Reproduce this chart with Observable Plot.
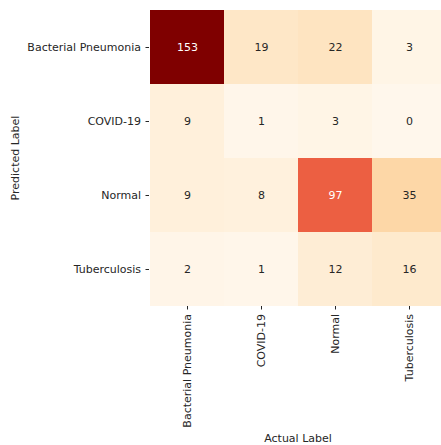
<!DOCTYPE html>
<html>
<head>
<meta charset="utf-8">
<script src="https://cdn.jsdelivr.net/npm/d3@7"></script>
<script src="https://cdn.jsdelivr.net/npm/@observablehq/plot@0.6"></script>
<style>
  html, body { margin: 0; padding: 0; background: #fff; overflow: hidden; }
  svg { font-family: "DejaVu Sans", sans-serif; }
</style>
</head>
<body>
<div id="chart"></div>
<script>
// Class names (rows = predicted, columns = actual)
const classes = ["Bacterial Pneumonia", "COVID-19", "Normal", "Tuberculosis"];

// Confusion-matrix counts, one array per predicted class
const predBacterial = [153, 19, 22, 3];
const predCovid = [9, 1, 3, 0];
const predNormal = [9, 8, 97, 35];
const predTuberculosis = [2, 1, 12, 16];

const matrix = [predBacterial, predCovid, predNormal, predTuberculosis];
const cells = matrix.flatMap((row, i) =>
  row.map((v, j) => ({predicted: classes[i], actual: classes[j], count: v}))
);
const vmax = d3.max(cells, d => d.count);

const chart = Plot.plot({
  width: 441,
  height: 445,
  marginLeft: 149,
  marginTop: 9,
  marginBottom: 139,
  marginRight: -5,
  style: {fontSize: "11px", fontFamily: "DejaVu Sans, sans-serif", color: "#262626", background: "white"},
  x: {domain: classes, padding: 0, label: null},
  y: {domain: classes, padding: 0, label: null},
  color: {type: "linear", scheme: "OrRd", domain: [0, vmax]},
  marks: [
    Plot.cell(cells, {x: "actual", y: "predicted", fill: "count", inset: 0}),
    Plot.text(cells, {
      x: "actual", y: "predicted", text: d => String(d.count),
      fill: d => d.count > vmax * 0.5 ? "white" : "#262626",
      fontSize: 11
    }),
    Plot.axisY({tickSize: 3.5, tickPadding: 5, fontSize: 11, label: null, stroke: "#262626"}),
    Plot.axisX({tickSize: 3.5, tickPadding: 4, fontSize: 11, tickRotate: -90, label: null, stroke: "#262626"}),
    Plot.text(["Predicted Label"], {
      frameAnchor: "left", rotate: -90, dx: -134, text: d => d,
      fontSize: 11, fill: "#262626", textAnchor: "middle", lineAnchor: "middle"
    }),
    Plot.text(["Actual Label"], {
      frameAnchor: "bottom", dy: 132, text: d => d,
      fontSize: 11, fill: "#262626", textAnchor: "middle", lineAnchor: "middle"
    })
  ]
});

document.getElementById("chart").appendChild(chart);
</script>
</body>
</html>
